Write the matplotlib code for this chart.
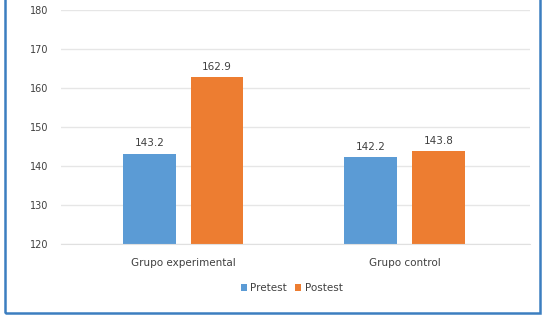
import numpy as np
import matplotlib
matplotlib.use("Agg")
import matplotlib.pyplot as plt
from matplotlib.patches import Rectangle

groups = ["Grupo experimental", "Grupo control"]
series = ["Pretest", "Postest"]
pretest = [143.2, 142.2]
postest = [162.9, 143.8]
colors = ["#5B9BD5", "#ED7D31"]
yticks = [120, 130, 140, 150, 160, 170, 180]

plt.rcParams['font.family'] = ['DejaVu Sans']
fig = plt.figure(figsize=(5.45, 3.22), dpi=100)
ax = fig.add_axes([0.112, 0.242, 0.86, 0.727])

x = np.arange(len(groups))
w = 0.238
gap = 0.068
for vals, off, c, name in [(pretest, -(w + gap) / 2, colors[0], series[0]),
                           (postest, (w + gap) / 2, colors[1], series[1])]:
    bars = ax.bar(x + off, np.array(vals) - 120, w, bottom=120, color=c, label=name, zorder=2)
    for b, v in zip(bars, vals):
        ax.text(b.get_x() + b.get_width() / 2, v + 1.3, f"{v:.1f}", ha='center', va='bottom',
                fontsize=7.5, color='#404040')

ax.set_xlim(-0.552, 1.565)
ax.set_ylim(120, 180)
ax.set_yticks(yticks)
ax.set_xticks(x)
ax.set_xticklabels(groups)
ax.yaxis.grid(True, color='#E6E6E6', linewidth=1, zorder=0)
ax.set_axisbelow(True)
for s in ax.spines.values():
    s.set_visible(False)
ax.spines['bottom'].set_visible(True)
ax.spines['bottom'].set_color('#E0E0E0')
ax.tick_params(axis='both', length=0, colors='#404040')
ax.tick_params(axis='y', pad=9, labelsize=7)
ax.tick_params(axis='x', pad=10, labelsize=7.5)

fig.legend(loc='lower center', bbox_to_anchor=(0.535, 0.06), ncol=2, frameon=False,
           fontsize=7.5, handlelength=0.6, handleheight=0.6, columnspacing=0.8,
           handletextpad=0.3, labelcolor='#404040')

fig.patches.append(Rectangle((5 / 545, 9 / 322), 535 / 545, 1.0, transform=fig.transFigure,
                             fill=False, edgecolor='#3C7EC0', linewidth=1.8))

fig.savefig("out.png", dpi=100)
